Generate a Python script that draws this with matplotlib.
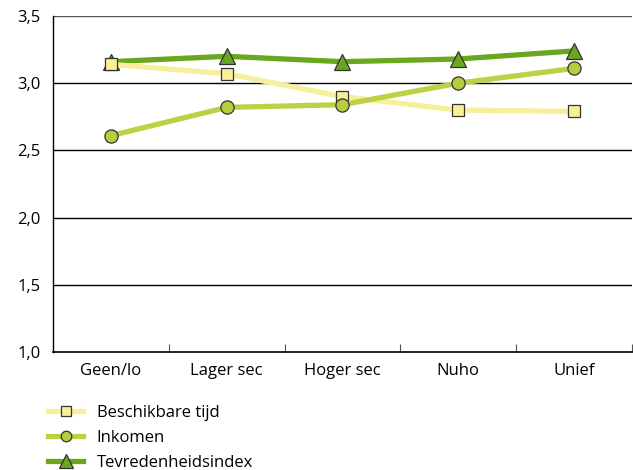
import matplotlib.pyplot as plt
import numpy as np

plt.rcParams['font.family'] = ['Open Sans', 'DejaVu Sans']

categories = ['Geen/lo', 'Lager sec', 'Hoger sec', 'Nuho', 'Unief']
beschikbare_tijd = [3.14, 3.07, 2.90, 2.80, 2.79]
inkomen = [2.61, 2.82, 2.84, 3.00, 3.11]
tevredenheid = [3.16, 3.20, 3.16, 3.18, 3.24]
y_ticks = [1.0, 1.5, 2.0, 2.5, 3.0, 3.5]

fig = plt.figure(figsize=(6.33, 4.70), dpi=100)
ax = fig.add_axes([0.084, 0.251, 0.914, 0.715])

x = np.arange(len(categories))
ax.plot(x, beschikbare_tijd, color='#f8ef9c', lw=3.8, marker='s', ms=9,
        mfc='#f9ef97', mec='#333333', mew=0.9, label='Beschikbare tijd', zorder=3)
ax.plot(x, inkomen, color='#bcd143', lw=3.8, marker='o', ms=9.5,
        mfc='#b7cc3e', mec='#333333', mew=0.9, label='Inkomen', zorder=4)
ax.plot(x, tevredenheid, color='#6aa61e', lw=3.8, marker='^', ms=12,
        mfc='#6aa61e', mec='#333333', mew=0.9, label='Tevredenheidsindex', zorder=2)

ax.set_xlim(-0.5, len(categories) - 0.5)
ax.set_ylim(1.0, 3.5)
ax.set_yticks(y_ticks)
ax.set_yticklabels([f'{v:.1f}'.replace('.', ',') for v in y_ticks])
ax.set_xticks(x)
ax.set_xticklabels(categories)
ax.set_xticks(np.arange(len(categories)) + 0.5, minor=True)
ax.tick_params(axis='x', which='major', length=0, pad=8, labelsize=12)
ax.tick_params(axis='x', which='minor', direction='in', length=6, width=0.8, color='#555555')
ax.tick_params(axis='y', length=0, pad=9, labelsize=12)

for v in y_ticks[1:]:
    ax.axhline(v, color='#555555' if v == 3.5 else 'black', lw=1.0, zorder=1)

for s in ['top', 'right']:
    ax.spines[s].set_visible(False)
ax.spines['left'].set_linewidth(1.0)
ax.spines['bottom'].set_linewidth(1.2)

fig.legend(loc='upper left', bbox_to_anchor=(0.066, 0.153), frameon=False,
           handlelength=2.1, handletextpad=0.8, labelspacing=0.55, markerscale=0.8,
           fontsize=12, borderaxespad=0)

fig.savefig('out.png', dpi=100)
